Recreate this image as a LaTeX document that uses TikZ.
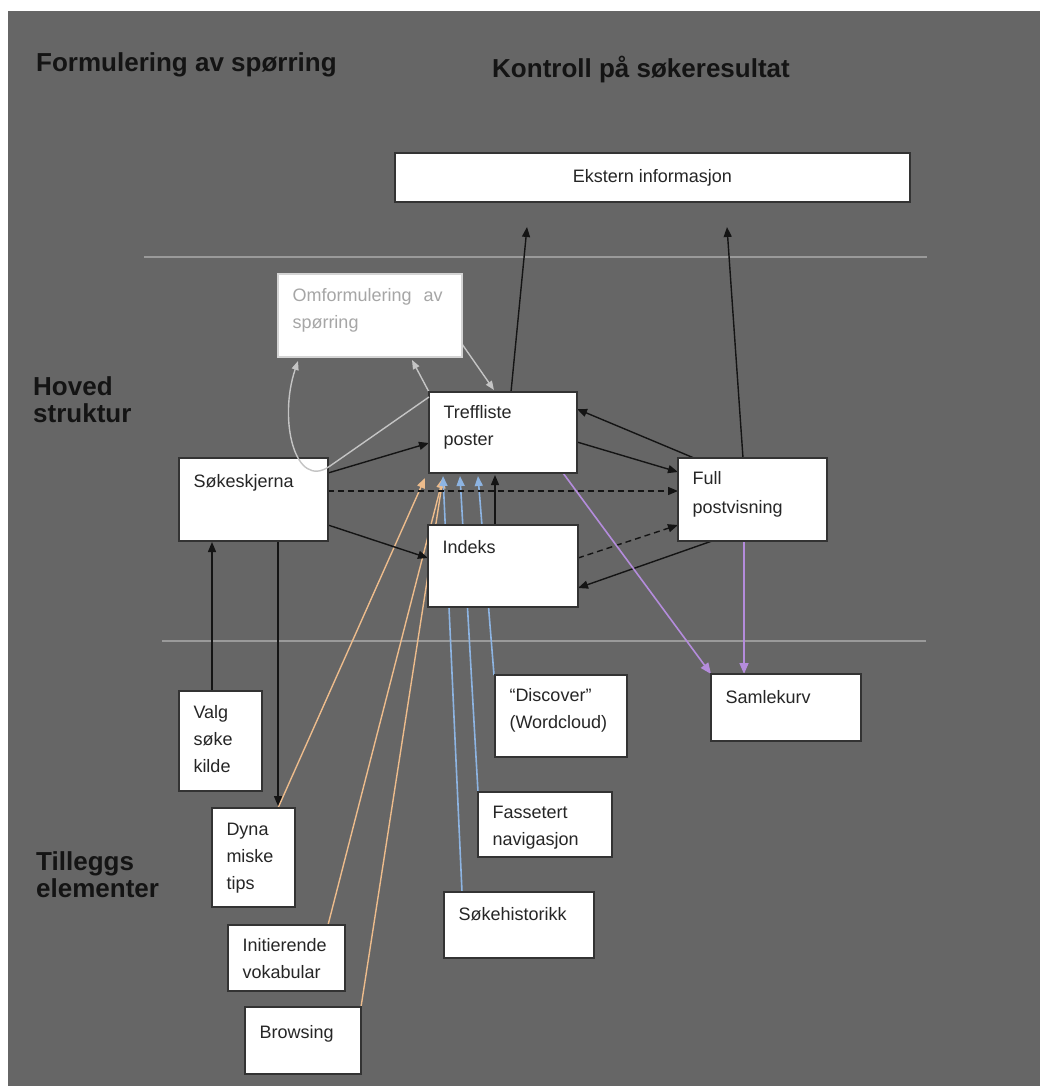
\documentclass[tikz,border=0pt]{standalone}
\usepackage{fontspec}
\setmainfont{Liberation Sans}
\usetikzlibrary{arrows.meta,calc}
\pgfdeclarelayer{back}
\pgfdeclarelayer{links}
\pgfsetlayers{back,links,main}

\definecolor{panel}{HTML}{666666}
\definecolor{sepline}{HTML}{9A9A9A}
\definecolor{boxline}{HTML}{333333}
\definecolor{boxtext}{HTML}{262626}
\definecolor{linkgray}{HTML}{C4C4C4}
\definecolor{omftext}{HTML}{A6A6A6}
\definecolor{omfline}{HTML}{D4D4D4}
\definecolor{tanline}{HTML}{EDBC8C}
\definecolor{skyline}{HTML}{8DB4E2}
\definecolor{lilac}{HTML}{B48CDC}

% #1 width, #2 height, #3 first baseline below the top edge, #4 text
\newcommand\boxtext[4]{\parbox[c][#2pt][t]{#1pt}{\raggedright\leftskip=14.5pt\rule{0pt}{#3pt}#4}}

\tikzset{
  box/.style={draw=boxline, fill=white, line width=1.5pt, inner sep=0pt, outer sep=0pt,
    anchor=north west, text=boxtext, font=\fontsize{18}{27}\selectfont},
  heading/.style={inner sep=0pt, anchor=base west, text=black!92,
    font=\fontsize{26}{27}\selectfont\bfseries},
  tipshape/.style={-{Triangle[length=10pt,width=8pt]}},
  conn/.style={draw=black!92, line width=1.4pt, tipshape},
  dconn/.style={conn, dash pattern=on 6pt off 4pt},
  tanlink/.style={draw=tanline, line width=1.4pt, tipshape},
  skylink/.style={draw=skyline, line width=1.6pt, tipshape},
  lilaclink/.style={draw=lilac, line width=1.6pt, -{Triangle[length=11pt,width=9pt]}},
  graylink/.style={draw=linkgray, line width=1.4pt, -{Triangle[length=9pt,width=7pt]}},
}

\begin{document}
\begin{tikzpicture}[x=1pt, y=-1pt]
\useasboundingbox (0,0) rectangle (1040,1086);

\begin{pgfonlayer}{back}
  \fill[white] (0,0) rectangle (1040,1086);
  \fill[panel] (8,11) rectangle (1040,1086);
  % section separators
  \draw[sepline, line width=2pt] (144,257) -- (927,257);
  \draw[sepline, line width=2pt] (162,641) -- (926,641);
\end{pgfonlayer}

% section headings
\node[heading] (hform) at (36,72) {Formulering av spørring};
\node[heading] (hkontr) at (492,78) {Kontroll på søkeresultat};
\node[heading] (hhoved) at (33,395) {\parbox[t]{200pt}{Hoved\\struktur}};
\node[heading] (htill) at (36,870) {\parbox[t]{200pt}{Tilleggs\\elementer}};

% boxes
\node[box] (ekst) at (395,153) {\parbox[c][49pt][c]{515pt}{\centering Ekstern informasjon}};
\node[box, draw=omfline, text=omftext] (omf) at (278,274)
  {\boxtext{184}{83}{27.5}{Omformulering\hspace{12pt}av\\spørring}};
\node[box] (tref) at (429,392) {\boxtext{148}{81}{26.5}{Treffliste\\poster}};
\node[box] (sok)  at (179,458) {\boxtext{149}{83}{29.5}{Søkeskjerna}};
\node[box] (idx)  at (428,525) {\boxtext{150}{82}{28.5}{Indeks}};
\node[box] (full) at (678,458) {\boxtext{149}{83}{26.5}{Full\\[2pt]postvisning}};
\node[box] (saml) at (711,674) {\boxtext{150}{67}{29.5}{Samlekurv}};
\node[box] (valg) at (179,691) {\boxtext{83}{100}{27.5}{Valg\\søke\\kilde}};
\node[box] (dyna) at (212,808) {\boxtext{83}{99}{27.5}{Dyna\\miske\\tips}};
\node[box] (init) at (228,925) {\boxtext{117}{66}{26.5}{Initierende\\vokabular}};
\node[box] (brow) at (245,1007) {\boxtext{116}{67}{31.5}{Browsing}};
\node[box] (disc) at (495,675) {\boxtext{132}{82}{26.5}{“Discover”\\(Wordcloud)}};
\node[box] (fass) at (478,792) {\boxtext{134}{65}{26.5}{Fassetert\\navigasjon}};
\node[box] (hist) at (444,892) {\boxtext{150}{66}{28.5}{Søkehistorikk}};

\begin{pgfonlayer}{links}
  % supplementary elements feeding the hit list
  \draw[tanlink] ($(dyna.north west)+(66,0)$) -- ($(tref.south west)+(-4,5)$);
  \draw[tanlink] ($(init.north west)+(100,0)$) -- ($(tref.south west)+(14,5)$);
  \draw[tanlink] (brow.north east) -- ($(tref.south west)+(14,5)$);
  \draw[skylink] ($(hist.north west)+(18,0)$) -- ($(tref.south west)+(14,3)$);
  \draw[skylink] (fass.north west) -- ($(tref.south west)+(31,3)$);
  \draw[skylink] ($(disc.north west)+(-1,0)$) -- ($(tref.south west)+(49,3)$);

  % main structure
  \draw[conn] ($(tref.north west)+(82,0)$) -- ($(ekst.south west)+(132,25)$);
  \draw[conn] ($(full.north west)+(65,0)$) -- ($(ekst.south west)+(332,25)$);
  \draw[conn] ($(sok.north east)+(0,15)$) -- ($(tref.north west)+(0,51)$);
  \draw[dconn] ($(sok.north east)+(0,33)$) -- ($(full.north west)+(0,33)$);
  \draw[conn] ($(sok.north east)+(0,67)$) -- ($(idx.north west)+(0,33)$);
  \draw[conn] ($(tref.north east)+(0,50)$) -- ($(full.north west)+(0,14)$);
  \draw[conn] ($(full.north west)+(16,0)$) -- ($(tref.north east)+(0,17)$);
  \draw[dconn] ($(idx.north east)+(0,33)$) -- ($(full.north west)+(0,67)$);
  \draw[conn] ($(full.south west)+(34,0)$) -- ($(idx.north east)+(0,63)$);
  \draw[conn] ($(idx.north west)+(67,0)$) -- ($(tref.south west)+(66,2)$);
  \draw[conn] ($(sok.south west)+(99,0)$) -- ($(dyna.north west)+(66,-2)$);
  \draw[conn] ($(valg.north west)+(33,0)$) -- ($(sok.south west)+(33,1)$);

  % collection basket
  \draw[lilaclink] ($(tref.south west)+(134,0)$) -- (saml.north west);
  \draw[lilaclink] ($(full.south west)+(66,0)$) -- ($(saml.north west)+(33,0)$);

  % query reformulation
  \draw[graylink] (tref.north west) -- ($(omf.south east)+(-50,3)$);
  \draw[graylink] ($(omf.south east)+(0,-13)$) -- ($(tref.north west)+(65,-2)$);
\end{pgfonlayer}

% reformulation loop, drawn over the search form
\draw[graylink] ($(tref.north west)+(0,5)$) -- ($(sok.north east)+(2,8)$)
  .. controls ($(sok.north east)+(-33,33)$) and ($(sok.north east)+(-50,-38)$)
  .. ($(omf.south west)+(20,4)$);
\end{tikzpicture}
\end{document}
